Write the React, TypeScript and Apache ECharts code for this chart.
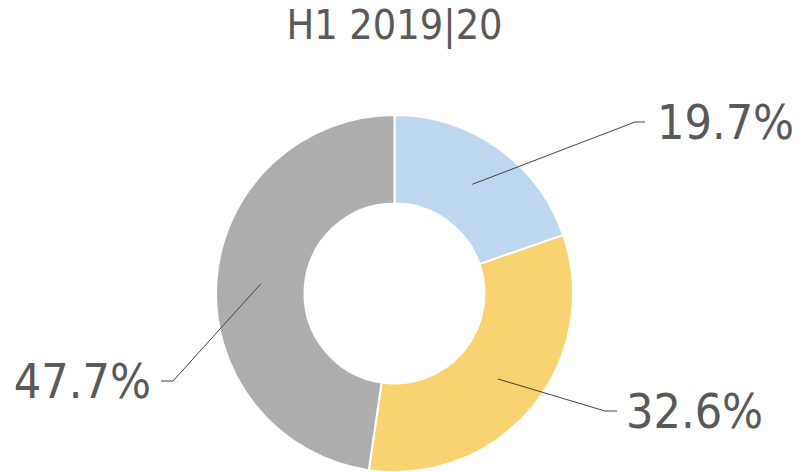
import React, { useEffect, useRef } from "react";
import * as echarts from "echarts";

const titleText = "H1 2019|20";
const categories = ["A", "B", "C"];
const shares = [19.7, 32.6, 47.7];
const colors = ["#BDD7EE", "#F9D271", "#ADADAD"];

// label layout: [bendX, bendY, endX, labelX, align]
const labelGuides: [number, number, number, number, "left" | "right"][] = [
  [635, 122, 645, 657, "left"],
  [605, 411, 617, 626, "left"],
  [173, 381, 161, 151, "right"],
];

const FONT = "'DejaVu Sans Condensed', 'DejaVu Sans', sans-serif";

export default function App() {
  const ref = useRef<HTMLDivElement>(null);
  useEffect(() => {
    document.body.style.margin = "0";
    const chart = echarts.init(ref.current!, null, { renderer: "svg" });
    const data = shares.map((v, i) => ({ name: categories[i], value: v }));
    chart.setOption({
      animation: false,
      backgroundColor: "#ffffff",
      title: {
        text: titleText,
        left: 394.5,
        textAlign: "center",
        top: 4,
        padding: 0,
        textStyle: { fontFamily: FONT, fontSize: 41, fontWeight: "normal", color: "#595959" },
      },
      series: [
        {
          type: "pie",
          z: 2,
          center: [394.5, 293.5],
          radius: [90, 178.5],
          startAngle: 90,
          clockwise: true,
          silent: true,
          label: { show: false },
          labelLine: { show: false },
          itemStyle: {
            borderColor: "#ffffff",
            borderWidth: 2,
            color: (p: any) => colors[p.dataIndex],
          },
          data,
        },
        {
          type: "pie",
          z: 10,
          center: [394.5, 293.5],
          radius: [0, 134],
          startAngle: 90,
          clockwise: true,
          silent: true,
          itemStyle: { color: "rgba(0,0,0,0)" },
          label: {
            show: true,
            formatter: (p: any) => p.value.toFixed(1) + "%",
            fontFamily: FONT,
            fontSize: 48,
            color: "#595959",
          },
          labelLine: {
            show: true,
            length: 10,
            length2: 10,
            lineStyle: { color: "#404040", width: 1 },
          },
          labelLayout: (params: any) => {
            const g = labelGuides[params.dataIndex];
            const start = params.labelLinePoints ? params.labelLinePoints[0] : [0, 0];
            return {
              x: g[3],
              y: g[1],
              align: g[4],
              verticalAlign: "middle",
              labelLinePoints: [start, [g[0], g[1]], [g[2], g[1]]],
            };
          },
          data,
        },
      ],
    });
    return () => chart.dispose();
  }, []);
  return <div ref={ref} style={{ width: 807, height: 472 }} />;
}
